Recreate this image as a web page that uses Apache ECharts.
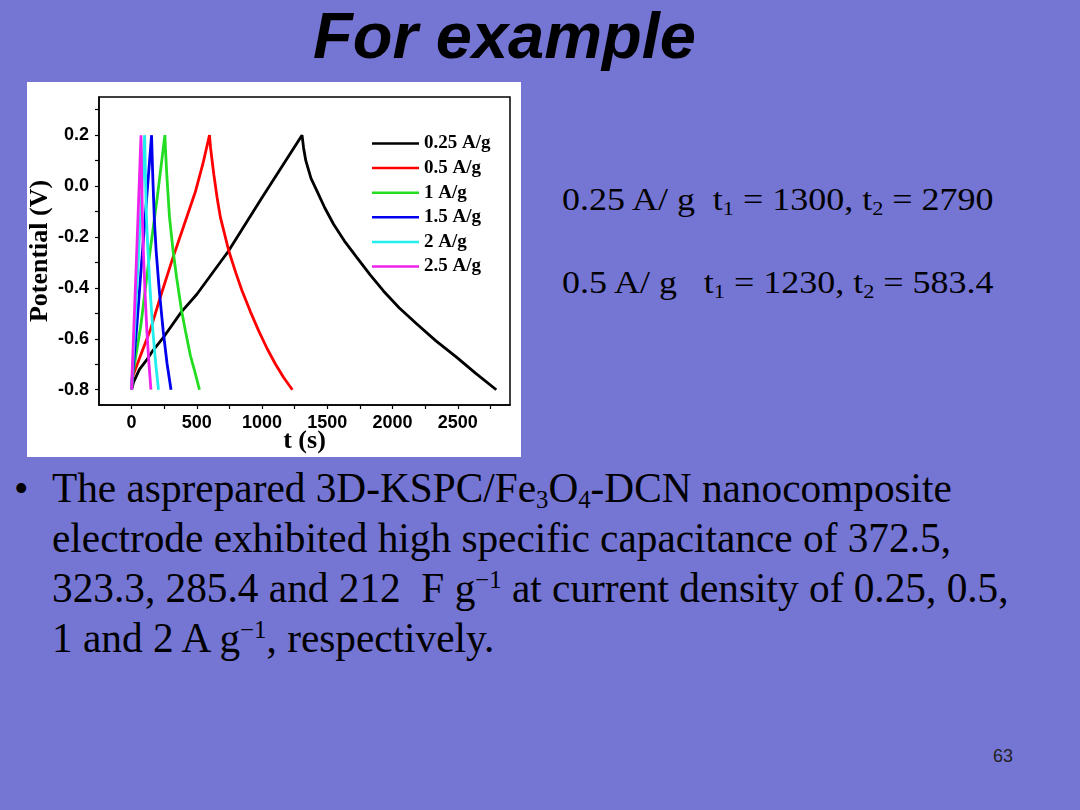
<!DOCTYPE html>
<html>
<head>
<meta charset="utf-8">
<script src="https://cdn.jsdelivr.net/npm/echarts@6/dist/echarts.min.js"></script>
<style>
  html, body { margin: 0; padding: 0; }
  body { width: 1080px; height: 810px; background: #7575d3; position: relative; overflow: hidden; }
  .abs { position: absolute; white-space: pre; color: #000; }
  #title { left: 313px; top: 3px; font: italic bold 65px "Liberation Sans", Arial, sans-serif; line-height: 1; }
  .note { left: 562px; font: 31px "Liberation Serif", "Times New Roman", serif; line-height: 1;
          transform: scaleX(1.16); transform-origin: left top; }
  .note sub { font-size: 0.62em; vertical-align: -0.28em; line-height: 0; }
  #bullet { left: 14px; top: 463px; font: 41.3px "Liberation Serif", "Times New Roman", serif; line-height: 50px; }
  #para { left: 52px; top: 463px; font: 41.3px "Liberation Serif", "Times New Roman", serif; line-height: 50px; }
  #para sub { font-size: 0.6em; vertical-align: -0.25em; line-height: 0; }
  #para sup { font-size: 0.6em; vertical-align: 0.55em; line-height: 0; }
  #page { left: 993px; top: 746px; font: 18px "Liberation Sans", Arial, sans-serif; color: #222; }
  #chart { position: absolute; left: 27px; top: 82px; width: 494px; height: 375px; background: #fff; }
</style>
</head>
<body>
<div id="title" class="abs">For example</div>
<div class="abs note" style="top: 184px">0.25 A/ g  t<sub>1</sub> = 1300, t<sub>2</sub> = 2790</div>
<div class="abs note" style="top: 267px">0.5 A/ g   t<sub>1</sub> = 1230, t<sub>2</sub> = 583.4</div>
<div id="bullet" class="abs">•</div>
<div id="para" class="abs">The asprepared 3D-KSPC/Fe<sub>3</sub>O<sub>4</sub>-DCN nanocomposite
electrode exhibited high specific capacitance of 372.5,
323.3, 285.4 and 212  F g<sup>−1</sup> at current density of 0.25, 0.5,
1 and 2 A g<sup>−1</sup>, respectively.</div>
<div id="page" class="abs">63</div>
<div id="chart"></div>
<script>
// series names and colours
const names = ['0.25 A/g', '0.5 A/g', '1 A/g', '1.5 A/g', '2 A/g', '2.5 A/g']
const colors = ['#000000', '#ff0000', '#22dd22', '#0000ee', '#22eeee', '#ee22ee']

// time (s) and potential (V)
const t025 = [0, 15, 60, 120, 160, 250, 380, 500, 740, 1000, 1150, 1306, 1318, 1335, 1375, 1421, 1480, 1548, 1630, 1727, 1830, 1930, 2050, 2186, 2330, 2492, 2640, 2795]
const v025 = [-0.8, -0.77, -0.72, -0.68, -0.648, -0.59, -0.495, -0.425, -0.257, -0.045, 0.075, 0.2, 0.15, 0.1, 0.03, -0.02, -0.085, -0.15, -0.215, -0.281, -0.35, -0.412, -0.478, -0.542, -0.607, -0.673, -0.737, -0.8]

const t05 = [0, 10, 80, 145, 230, 311, 400, 490, 545, 597, 605, 630, 655, 681, 745, 800, 847, 910, 974, 1040, 1102, 1165, 1232]
const v05 = [-0.8, -0.745, -0.65, -0.562, -0.42, -0.29, -0.156, -0.02, 0.085, 0.2, 0.15, 0.046, -0.045, -0.124, -0.255, -0.343, -0.412, -0.493, -0.569, -0.64, -0.699, -0.752, -0.8]

const t1 = [0, 6, 70, 130, 195, 255, 259, 269, 290, 317, 345, 383, 413, 451, 485, 520]
const v1 = [-0.8, -0.75, -0.55, -0.3, -0.05, 0.2, 0.15, 0.05, -0.12, -0.25, -0.36, -0.49, -0.57, -0.667, -0.73, -0.8]

const t15 = [0, 4, 40, 75, 115, 153, 156, 162, 174, 188, 212, 242, 272, 302]
const v15 = [-0.8, -0.76, -0.55, -0.31, -0.05, 0.2, 0.14, 0.04, -0.13, -0.255, -0.41, -0.569, -0.699, -0.8]

const t2 = [0, 3, 50, 100, 102, 106, 114, 125, 142, 163, 185, 206]
const v2 = [-0.8, -0.76, -0.3, 0.2, 0.14, 0.04, -0.13, -0.255, -0.41, -0.569, -0.699, -0.8]

const t25 = [0, 2, 36, 72, 74, 77, 83, 90, 102, 117, 133, 148]
const v25 = [-0.8, -0.76, -0.3, 0.2, 0.14, 0.04, -0.13, -0.255, -0.41, -0.569, -0.699, -0.8]

// axis ticks and labels
const xTicks = [0, 250, 500, 750, 1000, 1250, 1500, 1750, 2000, 2250, 2500, 2750]
const xLabels = [0, 500, 1000, 1500, 2000, 2500]
const yTicks = [-0.8, -0.7, -0.6, -0.5, -0.4, -0.3, -0.2, -0.1, 0, 0.1, 0.2, 0.3]
const yLabels = [-0.8, -0.6, -0.4, -0.2, 0, 0.2]

const ts = [t025, t05, t1, t15, t2, t25]
const vs = [v025, v05, v1, v15, v2, v25]

function pairs(t, v) {
  let out = []
  for (let i = 0; i < t.length; i++) out.push([t[i], v[i]])
  return out
}

let chart = echarts.init(document.getElementById('chart'))

let labelStyle = {
  color: '#000',
  fontFamily: 'Liberation Sans, Arial, sans-serif',
  fontWeight: 'bold',
  fontSize: 18
}
let nameStyle = {
  color: '#000',
  fontFamily: 'Liberation Serif, Times New Roman, serif',
  fontWeight: 'bold',
  fontSize: 26
}

chart.setOption({
  animation: false,
  grid: {
    left: 72, right: 11, top: 15, bottom: 52,
    show: true, borderColor: '#000', borderWidth: 1.5,
    containLabel: false,
    outerBoundsMode: 'none'
  },
  legend: {
    data: names,
    orient: 'vertical',
    left: 345,
    top: 52,
    padding: 0,
    icon: 'rect',
    itemWidth: 47,
    itemHeight: 2.5,
    itemGap: 5.6,
    textStyle: {
      color: '#000',
      fontFamily: 'Liberation Serif, Times New Roman, serif',
      fontWeight: 'bold',
      fontSize: 19
    }
  },
  xAxis: {
    type: 'value',
    min: -250,
    max: 2900,
    name: 't (s)',
    nameLocation: 'middle',
    nameGap: 23,
    nameMoveOverlap: false,
    nameTextStyle: nameStyle,
    axisLine: { onZero: false, lineStyle: { color: '#000', width: 1.5 } },
    axisTick: { customValues: xTicks, length: 4, lineStyle: { color: '#000', width: 1.2 } },
    axisLabel: Object.assign({
      customValues: xLabels,
      margin: 9,
      formatter: function(v) { return String(v) }
    }, labelStyle),
    splitLine: { show: false }
  },
  yAxis: {
    type: 'value',
    min: -0.86,
    max: 0.35,
    name: 'Potential (V)',
    nameLocation: 'middle',
    nameGap: 46,
    nameMoveOverlap: false,
    nameTextStyle: nameStyle,
    axisLine: { onZero: false, lineStyle: { color: '#000', width: 1.5 } },
    axisTick: { customValues: yTicks, length: 4, lineStyle: { color: '#000', width: 1.2 } },
    axisLabel: Object.assign({
      customValues: yLabels,
      margin: 10,
      formatter: function(v) { return v.toFixed(1) }
    }, labelStyle),
    splitLine: { show: false }
  },
  series: names.map(function(name, i) {
    return {
      name: name,
      type: 'line',
      data: pairs(ts[i], vs[i]),
      symbol: 'none',
      color: colors[i],
      lineStyle: { color: colors[i], width: 2.8 }
    }
  })
})
</script>
</body>
</html>
